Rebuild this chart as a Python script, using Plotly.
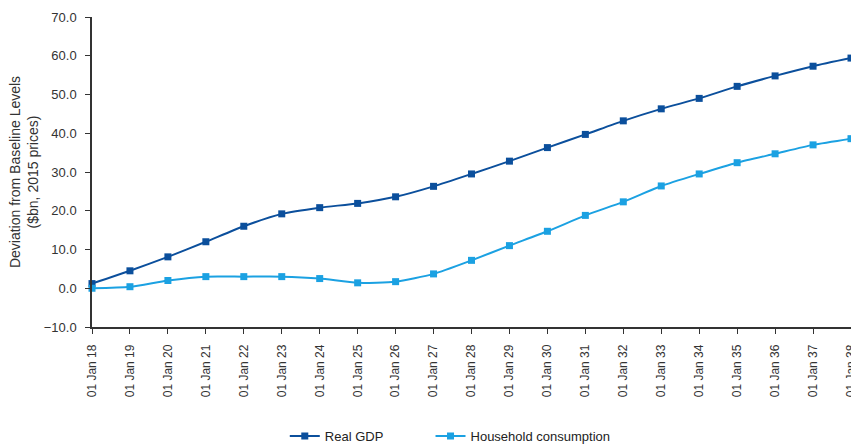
import plotly.graph_objects as go

categories = ["01 Jan %02d" % y for y in range(18, 39)]
real_gdp = [1.2, 4.5, 8.1, 12.0, 16.0, 19.2, 20.8, 21.9, 23.6, 26.3, 29.5,
            32.8, 36.3, 39.7, 43.2, 46.3, 49.0, 52.1, 54.8, 57.3, 59.4]
household = [0.0, 0.4, 2.0, 3.0, 3.0, 3.0, 2.5, 1.4, 1.7, 3.7, 7.2,
             11.0, 14.7, 18.8, 22.3, 26.4, 29.5, 32.4, 34.7, 37.0, 38.6]
y_ticks = [-10, 0, 10, 20, 30, 40, 50, 60, 70]

font = "Liberation Sans, Arial, sans-serif"
fig = go.Figure()
fig.add_trace(go.Scatter(
    x=categories, y=real_gdp, name="Real GDP", mode="lines+markers",
    line=dict(color="#0b4f9c", width=2, shape="spline", smoothing=0.6),
    marker=dict(symbol="square", size=7, color="#0b4f9c"), cliponaxis=False,
    legend="legend"))
fig.add_trace(go.Scatter(
    x=categories, y=household, name="Household consumption", mode="lines+markers",
    line=dict(color="#1ba1e2", width=2, shape="spline", smoothing=0.6),
    marker=dict(symbol="square", size=7, color="#1ba1e2"), cliponaxis=False,
    legend="legend2"))

legend_style = dict(orientation="h", xanchor="left", y=-0.352, yanchor="middle",
                    font=dict(size=13, color="#222222"), itemwidth=30,
                    bgcolor="rgba(0,0,0,0)")

fig.update_layout(
    width=851, height=445, plot_bgcolor="white", paper_bgcolor="white",
    margin=dict(l=92, r=0, t=17, b=118, autoexpand=False),
    font=dict(family=font, size=12, color="#333333"),
    showlegend=True,
    legend=dict(x=0.254, **legend_style),
    legend2=dict(x=0.446, **legend_style),
    xaxis=dict(type="category", range=[0, 20], tickangle=-90, showgrid=False,
               automargin=False,
               showline=True, linecolor="#333333", linewidth=1.5,
               ticks="outside", ticklen=5, tickcolor="#333333",
               ticklabelstandoff=6,
               tickfont=dict(size=12, color="#333333")),
    yaxis=dict(range=[-10, 70], tickvals=y_ticks, tickformat=".1f", showgrid=False,
               automargin=False,
               zeroline=False, showline=True, linecolor="#333333", linewidth=1.5,
               ticks="outside", ticklen=5, tickcolor="#333333",
               ticklabelstandoff=6,
               tickfont=dict(size=13, color="#333333"),
               title=dict(text="Deviation from Baseline Levels<br>($bn, 2015 prices)",
                          font=dict(size=14, color="#333333"), standoff=2)),
)
fig.write_html("out.html")
